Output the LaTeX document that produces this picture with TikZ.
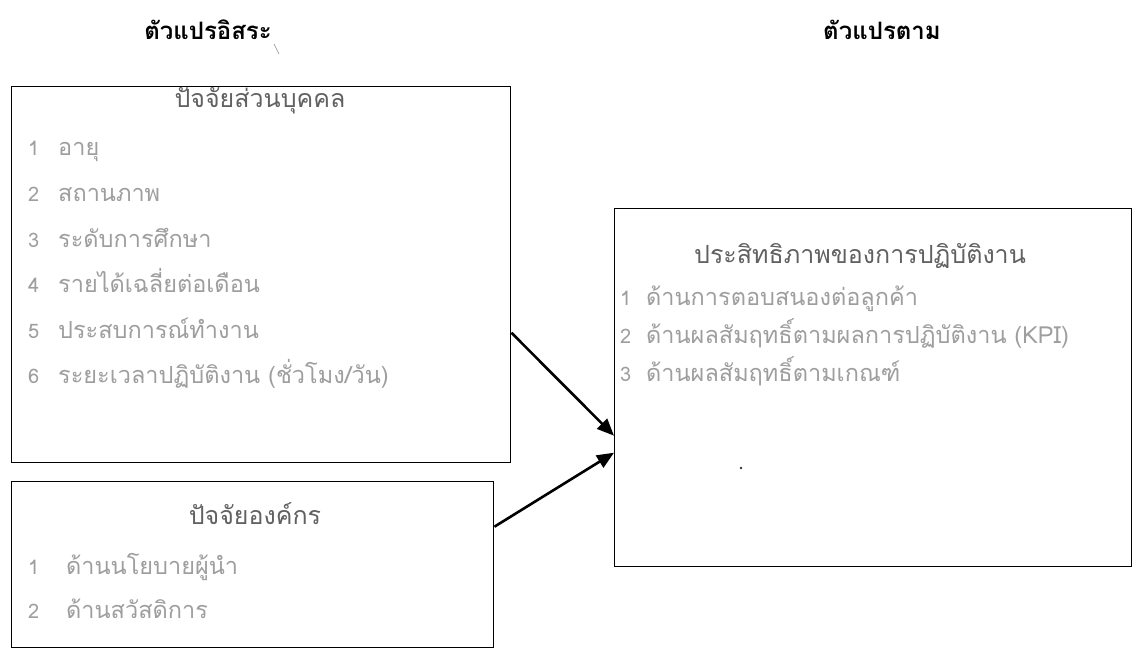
\documentclass[tikz,border=0pt]{standalone}
\usepackage{fontspec}
\newfontfamily\thai[Script=Thai]{Loma}
\usetikzlibrary{arrows.meta}
\definecolor{itemgray}{gray}{0.62}
\begin{document}
\begin{tikzpicture}[x=1pt,y=-1pt,
  box/.style={draw=black, line width=1.4pt, fill=white, anchor=north west, inner sep=0pt},
  heading/.style={font=\thai\bfseries\fontsize{24}{28}\selectfont, text=black},
  boxtitle/.style={font=\thai\fontsize{25}{29}\selectfont, text=black!62},
  item/.style={font=\thai\fontsize{23.5}{27}\selectfont, text=itemgray, anchor=base west, inner sep=0pt},
  num/.style={font=\thai\fontsize{20}{24}\selectfont, text=itemgray, anchor=base west, inner sep=0pt},
  arr/.style={line width=2.6pt, -{Triangle[length=17pt,width=14pt]}}]
\useasboundingbox (0,0) rectangle (1147,649);
\fill[white] (0,0) rectangle (1147,649);

% column headings
\node[heading] (hind) at (208,30) {ตัวแปรอิสระ};
\node[heading] (hdep) at (882,30) {ตัวแปรตาม};

% independent variables: personal factors (baselines of the list lines)
\node[box, minimum width=499pt, minimum height=376pt] (pers) at (11,86) {};
\node[boxtitle] (perst) at (260,101) {ปัจจัยส่วนบุคคล};
\node[num] (pn1) at (28,155) {1}; \node[item] (pi1) at (58,155) {อายุ};
\node[num] (pn2) at (28,201) {2}; \node[item] (pi2) at (58,201) {สถานภาพ};
\node[num] (pn3) at (28,247) {3}; \node[item] (pi3) at (58,247) {ระดับการศึกษา};
\node[num] (pn4) at (28,292) {4}; \node[item] (pi4) at (58,292) {รายได้เฉลี่ยต่อเดือน};
\node[num] (pn5) at (28,338) {5}; \node[item] (pi5) at (58,338) {ประสบการณ์ทำงาน};
\node[num] (pn6) at (28,383) {6}; \node[item] (pi6) at (58,383) {ระยะเวลาปฏิบัติงาน (ชั่วโมง/วัน)};

% independent variables: organisational factors
\node[box, minimum width=482pt, minimum height=166pt] (org) at (11,481) {};
\node[boxtitle] (orgt) at (255,514) {ปัจจัยองค์กร};
\node[num] (on1) at (28,574) {1}; \node[item] (oi1) at (66,574) {ด้านนโยบายผู้นำ};
\node[num] (on2) at (28,618) {2}; \node[item] (oi2) at (66,618) {ด้านสวัสดิการ};

% dependent variable
\node[box, minimum width=517pt, minimum height=358pt] (eff) at (614,208) {};
\node[boxtitle] (efft) at (860,256) {ประสิทธิภาพของการปฏิบัติงาน};
\node[num] (en1) at (620,305) {1}; \node[item] (ei1) at (646,305) {ด้านการตอบสนองต่อลูกค้า};
\node[num] (en2) at (620,343) {2}; \node[item] (ei2) at (646,343) {ด้านผลสัมฤทธิ์ตามผลการปฏิบัติงาน (KPI)};
\node[num] (en3) at (620,381) {3}; \node[item] (ei3) at (646,381) {ด้านผลสัมฤทธิ์ตามเกณฑ์};

% small marks
\draw[black!45, line width=0.6pt] (274,44) -- (279,54);
\fill[black!80] (741,468) circle (1.3pt);

% connectors
\draw[arr] ([yshift=-58pt]pers.east) -- ([yshift=-48pt]eff.west);
\draw[arr] ([yshift=38pt]org.east) -- ([yshift=-65pt]eff.west);
\end{tikzpicture}
\end{document}
